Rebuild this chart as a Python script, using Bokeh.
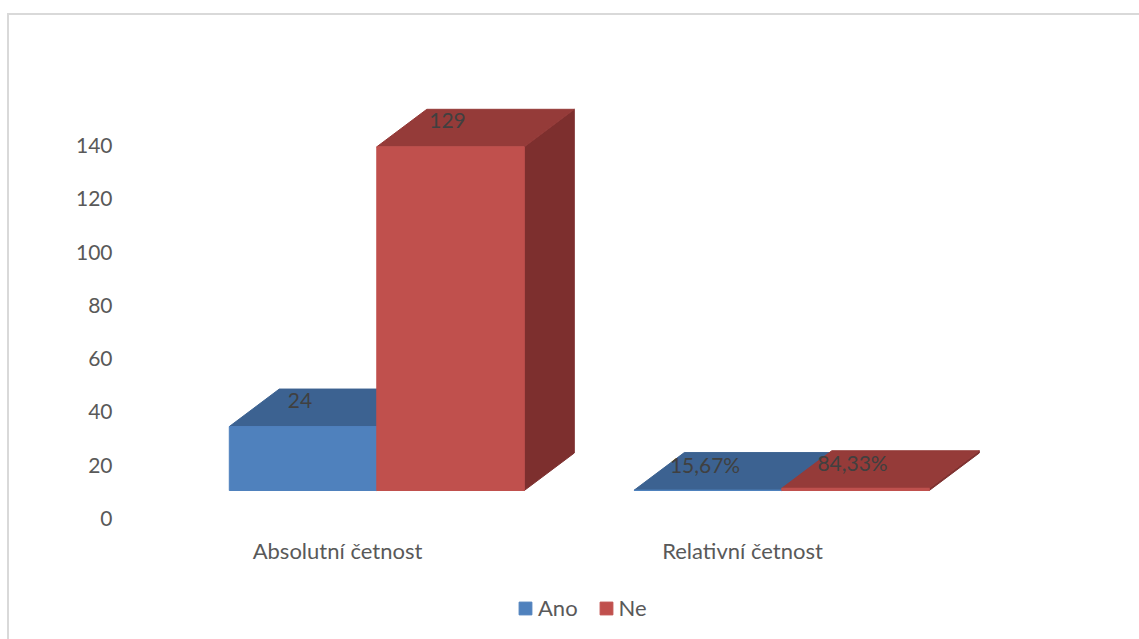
from bokeh.plotting import figure
from bokeh.models import Range1d, FixedTicker, Legend, LegendItem, ColumnDataSource
from bokeh.core.properties import value
from bokeh.embed import file_html
from bokeh.resources import INLINE

# --- data -------------------------------------------------------------
categories = ["Absolutní četnost", "Relativní četnost"]
series = ["Ano", "Ne"]
ano = [24, 0.1567]
ne = [129, 0.8433]
y_ticks = [0, 20, 40, 60, 80, 100, 120, 140]

front_colors = {"Ano": "#4F81BD", "Ne": "#C0504D"}
top_colors = {"Ano": "#3C6291", "Ne": "#953B39"}
side_colors = {"Ano": "#2F4D72", "Ne": "#7D2F2E"}

FONT = "Lato"

# --- pseudo-3D geometry (in data units) -------------------------------
PX_PER_X = 405.0              # pixels per category step
PX_PER_Y = (518 - 145) / 140  # pixels per value unit
BAR_W = 147.5 / PX_PER_X
GROUP_SHIFT = 0.097           # bar block sits right of its category label
DEPTH_X = 50 / PX_PER_X
DEPTH_Y = 37.5 / PX_PER_Y
FLOOR = 28 / PX_PER_Y         # front edge of the floor
CAT_LABEL_Y = -32 / PX_PER_Y  # category names below the value axis zero

# outer chart border offset (drawn with CSS on the plot element)
OFF_X, OFF_Y = 9, 15
total_w, total_h = 1139 - OFF_X, 639 - OFF_Y
left_px, top_px = 130 - OFF_X, 60 - OFF_Y
frame_w = 903
frame_h = total_h - top_px
x_start = -(337 - 130) / PX_PER_X
y_end = (518 - 60) / PX_PER_Y
y_start = y_end - frame_h / PX_PER_Y

p = figure(width=total_w, height=total_h, frame_width=frame_w, frame_height=frame_h,
           min_border_left=left_px, min_border_top=top_px,
           min_border_right=total_w - left_px - frame_w, min_border_bottom=0,
           x_range=Range1d(x_start, x_start + frame_w / PX_PER_X),
           y_range=Range1d(y_start, y_end),
           output_backend="svg", toolbar_location=None,
           background_fill_color="white", border_fill_color="white")
p.outline_line_color = None
p.grid.visible = False
p.xaxis.visible = False
p.styles = {"margin-left": "7px", "margin-top": "13px",
            "border-left": "2px solid #D9D9D9", "border-top": "2px solid #D9D9D9"}


def label_for(cat_index, v):
    if cat_index == 0:
        return f"{v:g}"
    return f"{v * 100:.2f}%".replace(".", ",")


renderers = {}
label_x, label_y, label_txt = [], [], []
for s_idx, (name, vals) in enumerate(zip(series, [ano, ne])):
    fronts, tops, sides = ([], []), ([], []), ([], [])
    for c_idx, v in enumerate(vals):
        x0 = c_idx + GROUP_SHIFT - BAR_W + s_idx * BAR_W
        x1 = x0 + BAR_W
        b = FLOOR
        t = FLOOR + v
        fronts[0].append([x0, x1, x1, x0])
        fronts[1].append([b, b, t, t])
        tops[0].append([x0, x1, x1 + DEPTH_X, x0 + DEPTH_X])
        tops[1].append([t, t, t + DEPTH_Y, t + DEPTH_Y])
        sides[0].append([x1, x1 + DEPTH_X, x1 + DEPTH_X, x1])
        sides[1].append([b, b + DEPTH_Y, t + DEPTH_Y, t])
        label_x.append((x0 + x1) / 2 - 3 / PX_PER_X)
        label_y.append(t + 26 / PX_PER_Y)
        label_txt.append(label_for(c_idx, v))
    p.patches(sides[0], sides[1], fill_color=side_colors[name], line_color=side_colors[name])
    p.patches(tops[0], tops[1], fill_color=top_colors[name], line_color=top_colors[name])
    renderers[name] = p.patches(fronts[0], fronts[1], fill_color=front_colors[name],
                                line_color=front_colors[name])

# value labels on the bar tops
lbl_src = ColumnDataSource(dict(x=label_x, y=label_y, text=label_txt))
p.text("x", "y", "text", source=lbl_src, text_align="center", text_baseline="middle",
       text_font=value(FONT), text_font_size="21px", text_color="#404040")

# category names
cat_src = ColumnDataSource(dict(x=list(range(len(categories))),
                                y=[CAT_LABEL_Y] * len(categories), text=categories))
p.text("x", "y", "text", source=cat_src, text_align="center", text_baseline="middle",
       text_font=value(FONT), text_font_size="22px", text_color="#595959")

# --- value axis -------------------------------------------------------
p.yaxis.ticker = FixedTicker(ticks=y_ticks)
p.yaxis.axis_line_color = None
p.yaxis.major_tick_line_color = None
p.yaxis.minor_tick_line_color = None
p.yaxis.major_tick_out = 0
p.yaxis.major_tick_in = 0
p.yaxis.major_label_text_font = FONT
p.yaxis.major_label_text_color = "#595959"
p.yaxis.major_label_text_font_size = "21px"
p.yaxis.major_label_standoff = 18

# --- legend (under the category names) --------------------------------
legend = Legend(items=[LegendItem(label=n, renderers=[renderers[n]]) for n in series],
                orientation="horizontal", location=(387, 18),
                glyph_width=16, glyph_height=16, label_standoff=5, spacing=20,
                padding=0, margin=0, border_line_color=None,
                background_fill_alpha=0,
                label_text_font=FONT, label_text_font_size="22px",
                label_text_color="#595959")
p.add_layout(legend, "center")

open("out.html", "w").write(file_html(p, INLINE))
